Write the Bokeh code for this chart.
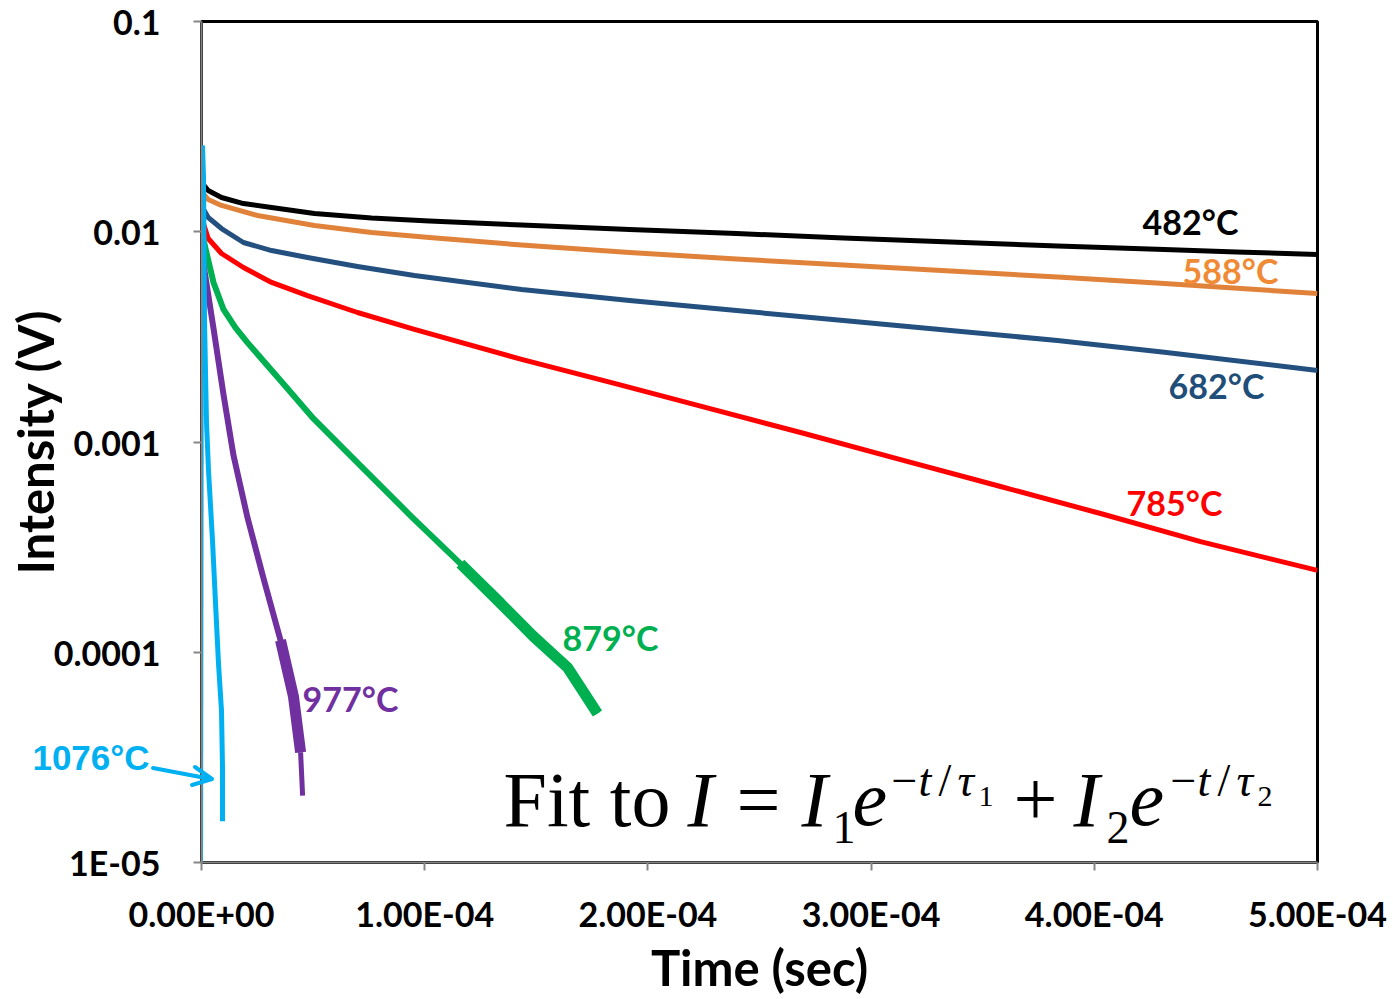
import math
from bokeh.plotting import figure
from bokeh.models import (Range1d, FixedTicker, CustomJSTickFormatter, Label, Div)
from bokeh.layouts import column
from bokeh.embed import file_html
from bokeh.resources import INLINE

# ---------------- data (time in s, intensity in V) ----------------
t_482 = [4.5e-7, 3.0e-6, 8.96e-6, 1.88e-5, 3.14e-5, 5.06e-5, 7.62e-5, 1.021e-4, 1.434e-4,
         1.918e-4, 2.397e-4, 2.876e-4, 3.356e-4, 3.835e-4, 4.314e-4, 4.637e-4, 5.0e-4]
i_482 = [0.01696, 0.01571, 0.01455, 0.01362, 0.01304, 0.01221, 0.01163, 0.01125, 0.01077,
         0.01025, 0.00981, 0.00934, 0.00894, 0.00856, 0.00823, 0.00801, 0.00780]

t_588 = [4.5e-7, 3.0e-6, 8.96e-6, 2.51e-5, 5.06e-5, 7.62e-5, 1.021e-4, 1.434e-4, 1.918e-4,
         2.397e-4, 2.876e-4, 3.356e-4, 3.835e-4, 4.314e-4, 5.0e-4]
i_588 = [0.01537, 0.01423, 0.01334, 0.01195, 0.01071, 0.00992, 0.00939, 0.00865, 0.00797,
         0.00742, 0.00695, 0.00651, 0.00609, 0.00567, 0.00508]

t_682 = [4.5e-7, 3.0e-6, 8.96e-6, 1.88e-5, 3.14e-5, 4.75e-5, 6.99e-5, 9.54e-5, 1.434e-4,
         1.918e-4, 2.397e-4, 2.876e-4, 3.356e-4, 3.835e-4, 4.314e-4, 5.0e-4]
i_682 = [0.01304, 0.01169, 0.01036, 0.00889, 0.00814, 0.00754, 0.00684, 0.00619, 0.00531,
         0.00471, 0.00422, 0.00378, 0.00339, 0.00304, 0.00267, 0.00219]

t_785 = [4.5e-7, 3.0e-6, 8.96e-6, 1.88e-5, 3.14e-5, 4.75e-5, 6.99e-5, 9.54e-5, 1.434e-4,
         1.850e-4, 2.236e-4, 2.684e-4, 3.132e-4, 3.580e-4, 4.028e-4, 4.476e-4, 5.0e-4]
i_785 = [0.01131, 0.00929, 0.00788, 0.00676, 0.00574, 0.00497, 0.00413, 0.00343, 0.00247,
         0.00190, 0.00148, 0.00111, 0.000825, 0.000614, 0.000457, 0.000336, 0.000245]

t_879 = [4.5e-7, 1.79e-6, 5.38e-6, 9.86e-6, 1.52e-5, 2.06e-5, 3.54e-5, 5.02e-5, 7.12e-5,
         9.36e-5, 1.160e-4, 1.340e-4, 1.487e-4, 1.640e-4, 1.774e-4]
i_879 = [0.0097, 0.00832, 0.00574, 0.00427, 0.00350, 0.00297, 0.00196, 0.00129, 0.000773,
         0.000447, 0.000264, 0.000171, 0.000119, 8.46e-5, 5.11e-5]

t_977 = [4.5e-7, 5.38e-6, 9.86e-6, 1.434e-5, 2.06e-5, 2.78e-5, 3.54e-5, 4.12e-5,
         4.44e-5, 4.53e-5]
i_977 = [0.0075, 0.00347, 0.00168, 0.000863, 0.000437, 0.000224, 0.000114, 6.16e-5,
         3.34e-5, 2.08e-5]

t_1076 = [0.0, 4.5e-7, 9.0e-7, 1.34e-6, 2.24e-6, 3.14e-6, 4.93e-6, 6.27e-6,
          7.62e-6, 8.96e-6, 9.41e-6, 9.41e-6]
i_1076 = [5e-6, 0.0257, 0.01811, 0.00383, 0.001239, 0.000732, 0.000340, 0.000172,
          8.84e-5, 5.28e-5, 2.83e-5, 1.57e-5]

series_names = ["482°C", "588°C", "682°C", "785°C", "879°C", "977°C", "1076°C"]

x_ticks = [0.0, 1e-4, 2e-4, 3e-4, 4e-4, 5e-4]
x_tick_labels = ["0.00E+00", "1.00E-04", "2.00E-04", "3.00E-04", "4.00E-04", "5.00E-04"]
y_ticks = [1e-5, 1e-4, 1e-3, 1e-2, 1e-1]
y_tick_labels = ["1E-05", "0.0001", "0.001", "0.01", "0.1"]

# ---------------- figure ----------------
SANS = "Lato"
SERIF = "Liberation Serif"
W, H = 1390, 999
FL, FR, FT, FB = 201, 1317, 21, 862   # frame edges in page pixels

p = figure(width=W, height=H, x_range=Range1d(0, 5e-4),
           y_range=Range1d(1e-5, 0.1), y_axis_type="log",
           output_backend="svg", toolbar_location=None,
           min_border_left=FL, min_border_right=W - FR,
           min_border_top=FT, min_border_bottom=H - FB)
p.grid.visible = False
p.outline_line_color = "black"
p.outline_line_width = 3
p.background_fill_color = "white"
p.border_fill_color = "white"

for ax in (p.xaxis[0], p.yaxis[0]):
    ax.axis_line_color = "#868686"
    ax.axis_line_width = 2
    ax.major_tick_line_color = "#868686"
    ax.major_tick_line_width = 2
    ax.major_tick_out = 8
    ax.major_tick_in = 0
    ax.minor_tick_line_color = None
    ax.major_label_text_font = SANS
    ax.major_label_text_font_style = "bold"
    ax.major_label_text_font_size = "34px"
    ax.major_label_text_color = "black"
    ax.axis_label_text_font = SANS
    ax.axis_label_text_font_style = "bold"
    ax.axis_label_text_font_size = "49px"
    ax.axis_label_text_color = "black"

p.xaxis.ticker = FixedTicker(ticks=x_ticks, minor_ticks=[])
p.yaxis.ticker = FixedTicker(ticks=y_ticks, minor_ticks=[])
p.xaxis.formatter = CustomJSTickFormatter(args=dict(tvals=x_ticks, tlabs=x_tick_labels), code="""
    for (let i = 0; i < tvals.length; i++) {
        if (Math.abs(tvals[i] - tick) < 1e-9) return tlabs[i];
    }
    return "";
""")
p.yaxis.formatter = CustomJSTickFormatter(args=dict(tvals=y_ticks, tlabs=y_tick_labels), code="""
    for (let i = 0; i < tvals.length; i++) {
        if (Math.abs(Math.log10(tvals[i]) - Math.log10(tick)) < 1e-6) return tlabs[i];
    }
    return "";
""")
p.xaxis.major_label_standoff = 22
p.yaxis.major_label_standoff = 33
p.xaxis.axis_label = "Time (sec)"
p.yaxis.axis_label = "Intensity (V)"
p.xaxis.axis_label_standoff = 1
p.yaxis.axis_label_standoff = -13

# ---------------- curves ----------------
c_black, c_orange, c_blue, c_red = "#000000", "#E0823A", "#24507F", "#FF0000"
c_green, c_purple, c_cyan = "#00B050", "#7030A0", "#00B0F0"

p.line(t_482, i_482, line_color=c_black, line_width=5, line_join="round")
p.line(t_588, i_588, line_color=c_orange, line_width=5, line_join="round")
p.line(t_682, i_682, line_color=c_blue, line_width=5, line_join="round")
p.line(t_785, i_785, line_color=c_red, line_width=5, line_join="round")
p.line(t_879, i_879, line_color=c_green, line_width=6, line_join="round")
p.line(t_879[10:], i_879[10:], line_color=c_green, line_width=11)
p.line(t_977[:9], i_977[:9], line_color=c_purple, line_width=6, line_join="round")
p.line(t_977[6:9], i_977[6:9], line_color=c_purple, line_width=11)
p.line(t_977[8:], i_977[8:], line_color=c_purple, line_width=5)
p.line(t_1076[:2], i_1076[:2], line_color=c_cyan, line_width=3)
p.line(t_1076[1:], i_1076[1:], line_color=c_cyan, line_width=5, line_join="round")

# ---------------- annotations (page-pixel helpers for placement) ----------------
def px_t(px):
    return (px - FL) / (FR - FL) * 5e-4


def py_v(py):
    return 10 ** (-1 - (py - FT) / (FB - FT) * 4)


label_style = [
    (series_names[0], 1190, 221, c_black),
    (series_names[1], 1230, 270, "#F08A35"),
    (series_names[2], 1216, 385, "#1F4E79"),
    (series_names[3], 1174, 502, c_red),
    (series_names[4], 610, 637, c_green),
    (series_names[5], 350, 698, c_purple),
]
for txt, px, py, col in label_style:
    p.add_layout(Label(x=px_t(px), y=py_v(py), text=txt, text_align="center",
                       text_baseline="middle", text_font=SANS, text_font_style="bold",
                       text_font_size="34px", text_color=col))

# formula: Fit to I = I1 e^{-t/tau1} + I2 e^{-t/tau2}
# (x, baseline) in page pixels; Bokeh's alphabetic anchor sits ~0.35 em above the glyph baseline
formula = [
    ("Fit to", 503, 826, 78, "normal"),
    ("I", 687, 826, 78, "italic"),
    ("=", 736, 826, 78, "normal"),
    ("I", 801, 826, 78, "italic"),
    ("1", 832, 843, 46, "normal"),
    ("e", 852, 826, 78, "italic"),
    ("\u2212", 891, 796, 46, "normal"),
    ("t", 918, 796, 46, "italic"),
    ("/", 938, 796, 46, "normal"),
    ("\u03c4", 957, 796, 46, "italic"),
    ("1", 978, 806, 30, "normal"),
    ("+", 1013, 826, 78, "normal"),
    ("I", 1073, 826, 78, "italic"),
    ("2", 1106, 843, 46, "normal"),
    ("e", 1129, 826, 78, "italic"),
    ("\u2212", 1170, 796, 46, "normal"),
    ("t", 1197, 796, 46, "italic"),
    ("/", 1217, 796, 46, "normal"),
    ("\u03c4", 1236, 796, 46, "italic"),
    ("2", 1257, 806, 30, "normal"),
]
for txt, px, py, size, style in formula:
    p.add_layout(Label(x=px_t(px), y=py_v(py - 0.345 * size), text=txt, text_align="left",
                       text_baseline="alphabetic", text_font=SERIF,
                       text_font_style=style, text_font_size=f"{size}px",
                       text_color="black"))

# 1076 °C label and its arrow lie left of the plot frame (where Bokeh clips
# annotations), so they are drawn in an overlay placed over the figure.
OY = 720
svg = (
    f'<svg xmlns="http://www.w3.org/2000/svg" width="240" height="80" '
    f'style="overflow:visible;display:block">'
    f'<text x="91" y="{757 - OY}" text-anchor="middle" dominant-baseline="central" '
    f'font-family="Lato" font-weight="bold" font-size="35" fill="{c_cyan}">{series_names[6]}</text>'
    f'<line x1="153" y1="{768 - OY}" x2="211" y2="{779 - OY}" stroke="{c_cyan}" '
    f'stroke-width="4" stroke-linecap="round"/>'
    f'<polyline points="195,{767 - OY} 212,{779 - OY} 192,{785 - OY}" fill="none" '
    f'stroke="{c_cyan}" stroke-width="4" stroke-linecap="round" stroke-linejoin="round"/>'
    f'</svg>'
)
overlay = Div(text=svg, width=240, height=80,
              styles={"position": "absolute", "left": "0px", "top": f"{OY}px",
                      "z-index": "10", "pointer-events": "none", "margin": "0",
                      "padding": "0"})

layout = column(p, overlay)
open("out.html", "w").write(file_html(layout, INLINE))
